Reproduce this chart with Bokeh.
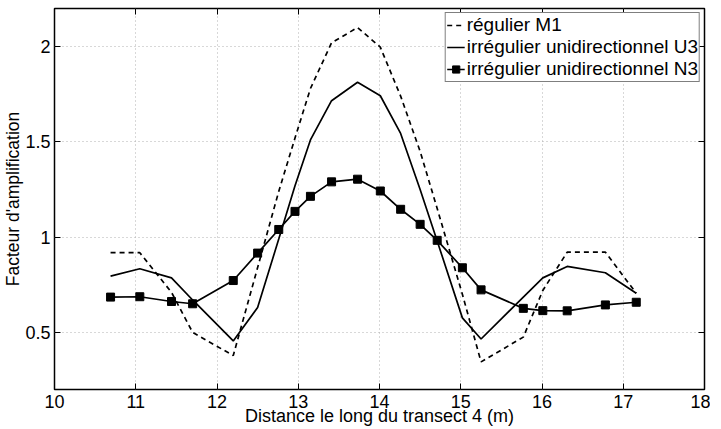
from bokeh.plotting import figure
from bokeh.models import (LinearAxis, FixedTicker, Range1d, Legend, LegendItem)
from bokeh.embed import file_html
from bokeh.resources import INLINE

# ---- data ----
x_pos = [10.69, 11.05, 11.44, 11.70, 12.20, 12.50, 12.76, 12.96, 13.15, 13.41, 13.73,
         14.01, 14.26, 14.50, 14.71, 15.02, 15.25, 15.77, 16.01, 16.31, 16.78, 17.16]
m1 = [0.918, 0.918, 0.71, 0.50, 0.378, 0.84, 1.24, 1.52, 1.78, 2.02, 2.10,
      1.997, 1.74, 1.45, 1.15, 0.70, 0.345, 0.475, 0.72, 0.921, 0.921, 0.705]
u3 = [0.795, 0.834, 0.786, 0.67, 0.455, 0.63, 0.99, 1.27, 1.51, 1.716, 1.813,
      1.742, 1.544, 1.25, 0.98, 0.576, 0.465, 0.685, 0.786, 0.846, 0.813, 0.705]
n3 = [0.685, 0.687, 0.662, 0.65, 0.772, 0.916, 1.04, 1.135, 1.214, 1.29, 1.304,
      1.242, 1.146, 1.067, 0.983, 0.839, 0.723, 0.626, 0.614, 0.613, 0.644, 0.658]
series_names = ["régulier M1", "irrégulier unidirectionnel U3", "irrégulier unidirectionnel N3"]
x_ticks = [10, 11, 12, 13, 14, 15, 16, 17, 18]
y_ticks = [0.5, 1, 1.5, 2]
y_tick_labels = ["0.5", "1", "1.5", "2"]
x_label = "Distance le long du transect 4 (m)"
y_label = "Facteur d'amplification"

FONT = "Liberation Sans"

p = figure(width=710, height=429, output_backend="svg", toolbar_location=None,
           x_range=Range1d(10, 18), y_range=Range1d(0.2, 2.2),
           min_border_left=52, min_border_right=6, min_border_top=8, min_border_bottom=40)
p.background_fill_color = "white"
p.border_fill_color = "white"
p.outline_line_color = "black"
p.outline_line_width = 1.5

xt = FixedTicker(ticks=x_ticks)
yt = FixedTicker(ticks=y_ticks)
p.xaxis.ticker = xt
p.yaxis.ticker = yt
p.yaxis.major_label_overrides = {v: s for v, s in zip(y_ticks, y_tick_labels)}

for ax in p.xaxis + p.yaxis:
    ax.major_tick_in = 6
    ax.major_tick_out = 0
    ax.minor_tick_line_color = None
    ax.axis_line_color = None
    ax.major_tick_line_color = "black"
    ax.major_tick_line_width = 1
    ax.major_label_text_font = FONT
    ax.major_label_text_font_size = "18px"
    ax.major_label_text_color = "black"
    ax.axis_label_text_font = FONT
    ax.axis_label_text_font_style = "normal"
    ax.axis_label_text_color = "black"

p.xaxis.axis_label = x_label
p.yaxis.axis_label = y_label
p.xaxis.axis_label_text_font_size = "18px"
p.yaxis.axis_label_text_font_size = "17.5px"
p.xaxis.major_label_standoff = 5
p.xaxis.axis_label_standoff = -5
p.yaxis.major_label_standoff = 4
p.yaxis.axis_label_standoff = -1

# top and right axes (ticks only, no labels drawn)
for loc, tk in (("above", xt), ("right", yt)):
    ax = LinearAxis(ticker=tk)
    ax.major_tick_in = 6
    ax.major_tick_out = 0
    ax.minor_tick_line_color = None
    ax.axis_line_color = None
    ax.major_label_text_font_size = "1px"
    ax.major_label_text_color = None
    ax.major_label_standoff = 0
    ax.major_tick_line_color = "black"
    p.add_layout(ax, loc)

p.grid.grid_line_color = "#b0b0b0"
p.grid.grid_line_dash = "1 3"
p.grid.grid_line_width = 1

r1 = p.line(x_pos, m1, line_color="black", line_width=1.7, line_dash="5 4")
r2 = p.line(x_pos, u3, line_color="black", line_width=1.7)
r3 = p.line(x_pos, n3, line_color="black", line_width=1.7)
r3m = p.scatter(x_pos, n3, marker="square", size=8, fill_color="black", line_color="black")

legend = Legend(items=[
    LegendItem(label=series_names[0], renderers=[r1]),
    LegendItem(label=series_names[1], renderers=[r2]),
    LegendItem(label=series_names[2], renderers=[r3, r3m]),
], location="top_right")
legend.border_line_color = "black"
legend.border_line_width = 1.5
legend.background_fill_color = "white"
legend.background_fill_alpha = 1
legend.margin = 4
legend.padding = 1
legend.spacing = 0
legend.glyph_width = 18
legend.glyph_height = 20
legend.label_height = 20
legend.label_standoff = 2
legend.label_text_font = FONT
legend.label_text_font_size = "19px"
legend.label_text_color = "black"
p.add_layout(legend, "center")

open("out.html", "w").write(file_html(p, INLINE))
